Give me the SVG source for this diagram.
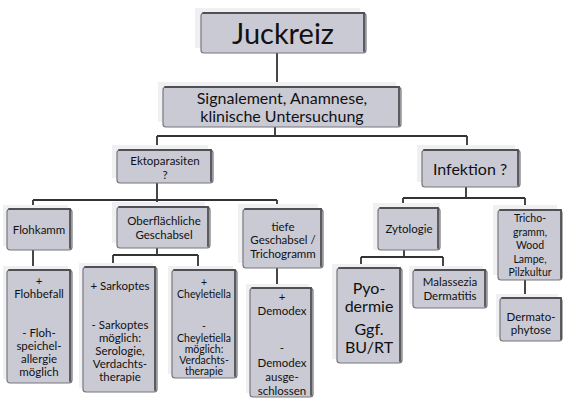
<svg xmlns="http://www.w3.org/2000/svg" width="563" height="399" viewBox="0 0 563 399">
  <style>
    .ghost { fill: #f0f0f2; stroke: none; }
    .box { fill: #cacad5; stroke: #77777c; stroke-width: 1.2; }
    .edge { fill: none; stroke: #505054; stroke-width: 1.8; stroke-linecap: round; }
    .conn { fill: none; stroke: #333; stroke-width: 1.8; }
    text { font-family: Lato, "Liberation Sans", sans-serif; fill: #111; text-anchor: middle; }
    .s11 { font-size: 10.5px; }
    .s12 { font-size: 11.5px; }
    .s16 { font-size: 16px; }
    .s17 { font-size: 16px; }
  </style>
  <rect width="563" height="399" fill="#fff"/>

  <!-- connectors -->
  <g id="connectors" class="conn">
    <path d="M277,53 V87"/>
    <path d="M275,127 V136 M157,136 H467 M157,136 V150 M467,136 V150"/>
    <path d="M157,183 V200 M33,200 H277 M33,200 V209 M157,200 V207 M277,200 V209"/>
    <path d="M466,187 V198 M403,198 H525 M403,198 V208 M525,198 V210"/>
    <path d="M33,250 V270"/>
    <path d="M157,248 V255 M113,255 H198 M113,255 V267 M198,255 V270"/>
    <path d="M277,268 V288"/>
    <path d="M404,250 V257 M361,257 H443 M361,257 V268 M443,257 V270"/>
    <path d="M525,280 V298"/>
  </g>

  <g id="juckreiz">
    <rect class="ghost" x="195" y="8" width="165" height="40"/>
    <rect class="box" x="201" y="13" width="165" height="40" rx="3"/>
    <path class="edge" d="M203,13 H364 V51"/>
    <text x="283" y="44" style="font-size:29px">Juckreiz</text>
  </g>

  <g id="signalement">
    <rect class="ghost" x="158" y="82" width="238" height="40"/>
    <rect class="box" x="163" y="87" width="238" height="40" rx="3"/>
    <path class="edge" d="M165,87 H399 V125"/>
    <text class="s16" x="282" y="104">Signalement, Anamnese,</text>
    <text class="s16" x="282" y="122">klinische Untersuchung</text>
  </g>

  <g id="ektoparasiten">
    <rect class="ghost" x="112" y="145" width="96" height="33"/>
    <rect class="box" x="117" y="150" width="96" height="33" rx="3"/>
    <path class="edge" d="M119,150 H211 V181"/>
    <text class="s12" x="165" y="165">Ektoparasiten</text>
    <text class="s12" x="165" y="179">?</text>
  </g>

  <g id="infektion">
    <rect class="ghost" x="417" y="145" width="98" height="37"/>
    <rect class="box" x="422" y="150" width="98" height="37" rx="3"/>
    <path class="edge" d="M424,150 H518 V185"/>
    <text class="s16" x="470" y="175">Infektion ?</text>
  </g>

  <g id="flohkamm">
    <rect class="ghost" x="3" y="205" width="65" height="41"/>
    <rect class="box" x="7" y="209" width="65" height="41" rx="3"/>
    <path class="edge" d="M9,209 H70 V248"/>
    <text class="s12" x="39" y="234">Flohkamm</text>
  </g>

  <g id="oberflaechliche-geschabsel">
    <rect class="ghost" x="112" y="202" width="93" height="41"/>
    <rect class="box" x="117" y="207" width="93" height="41" rx="3"/>
    <path class="edge" d="M119,207 H208 V246"/>
    <text class="s12" x="164" y="225">Oberflächliche</text>
    <text class="s12" x="164" y="239">Geschabsel</text>
  </g>

  <g id="tiefe-geschabsel">
    <rect class="ghost" x="238" y="204" width="80" height="59"/>
    <rect class="box" x="243" y="209" width="80" height="59" rx="3"/>
    <path class="edge" d="M245,209 H321 V266"/>
    <text class="s12" x="283" y="231">tiefe</text>
    <text class="s12" x="283" y="244">Geschabsel /</text>
    <text class="s12" x="283" y="258">Trichogramm</text>
  </g>

  <g id="zytologie">
    <rect class="ghost" x="373" y="203" width="67" height="47"/>
    <rect class="box" x="378" y="208" width="62" height="42" rx="3"/>
    <path class="edge" d="M380,208 H438 V248"/>
    <text class="s12" x="409" y="233">Zytologie</text>
  </g>

  <g id="trichogramm">
    <rect class="ghost" x="493" y="205" width="64" height="70"/>
    <rect class="box" x="498" y="210" width="64" height="70" rx="3"/>
    <path class="edge" d="M500,210 H561 V278"/>
    <text class="s11" x="530" y="222">Tricho-</text>
    <text class="s11" x="530" y="236">gramm,</text>
    <text class="s11" x="530" y="249">Wood</text>
    <text class="s11" x="530" y="263">Lampe,</text>
    <text class="s11" x="530" y="276">Pilzkultur</text>
  </g>

  <g id="flohbefall">
    <rect class="ghost" x="3" y="266" width="65" height="113"/>
    <rect class="box" x="7" y="270" width="65" height="113" rx="3"/>
    <path class="edge" d="M9,270 H70 V381"/>
    <text class="s12" x="39" y="285">+</text>
    <text class="s12" x="39" y="298">Flohbefall</text>
    <text class="s12" x="39" y="337">- Floh-</text>
    <text class="s12" x="39" y="350">speichel-</text>
    <text class="s12" x="39" y="363">allergie</text>
    <text class="s12" x="39" y="376">möglich</text>
  </g>

  <g id="sarkoptes">
    <rect class="ghost" x="79" y="263" width="74" height="125"/>
    <rect class="box" x="83" y="267" width="74" height="125" rx="3"/>
    <path class="edge" d="M85,267 H155 V390"/>
    <text class="s12" x="120" y="290">+ Sarkoptes</text>
    <text class="s12" x="120" y="329">- Sarkoptes</text>
    <text class="s12" x="120" y="342">möglich:</text>
    <text class="s12" x="120" y="355">Serologie,</text>
    <text class="s12" x="120" y="368">Verdachts-</text>
    <text class="s12" x="120" y="381">therapie</text>
  </g>

  <g id="cheyletiella">
    <rect class="ghost" x="168" y="266" width="65" height="108"/>
    <rect class="box" x="172" y="270" width="65" height="108" rx="3"/>
    <path class="edge" d="M174,270 H235 V376"/>
    <text class="s11" x="204" y="286">+</text>
    <text class="s11" x="204" y="298">Cheyletiella</text>
    <text class="s11" x="204" y="330">-</text>
    <text class="s11" x="204" y="342">Cheyletiella</text>
    <text class="s11" x="204" y="353">möglich:</text>
    <text class="s11" x="204" y="364">Verdachts-</text>
    <text class="s11" x="204" y="375">therapie</text>
  </g>

  <g id="demodex">
    <rect class="ghost" x="246" y="284" width="63" height="109"/>
    <rect class="box" x="250" y="288" width="63" height="109" rx="3"/>
    <path class="edge" d="M252,288 H311 V395"/>
    <text class="s12" x="282" y="301">+</text>
    <text class="s12" x="282" y="315">Demodex</text>
    <text class="s12" x="282" y="352">-</text>
    <text class="s12" x="282" y="367">Demodex</text>
    <text class="s12" x="282" y="381">ausge-</text>
    <text class="s12" x="282" y="395">schlossen</text>
  </g>

  <g id="pyodermie">
    <rect class="ghost" x="332" y="264" width="65" height="95"/>
    <rect class="box" x="337" y="268" width="65" height="95" rx="3"/>
    <path class="edge" d="M339,268 H400 V361"/>
    <text class="s17" x="369" y="294">Pyo-</text>
    <text class="s17" x="369" y="312">dermie</text>
    <text class="s17" x="369" y="335">Ggf.</text>
    <text class="s17" x="369" y="353">BU/RT</text>
  </g>

  <g id="malassezia">
    <rect class="ghost" x="409" y="266" width="74" height="38"/>
    <rect class="box" x="413" y="270" width="74" height="38" rx="3"/>
    <path class="edge" d="M415,270 H485 V306"/>
    <text class="s12" x="450" y="286">Malassezia</text>
    <text class="s12" x="450" y="300">Dermatitis</text>
  </g>

  <g id="dermatophytose">
    <rect class="ghost" x="496" y="294" width="62" height="43"/>
    <rect class="box" x="500" y="298" width="62" height="43" rx="3"/>
    <path class="edge" d="M502,298 H561 V339"/>
    <text class="s12" x="531" y="321">Dermato-</text>
    <text class="s12" x="531" y="334">phytose</text>
  </g>
</svg>
